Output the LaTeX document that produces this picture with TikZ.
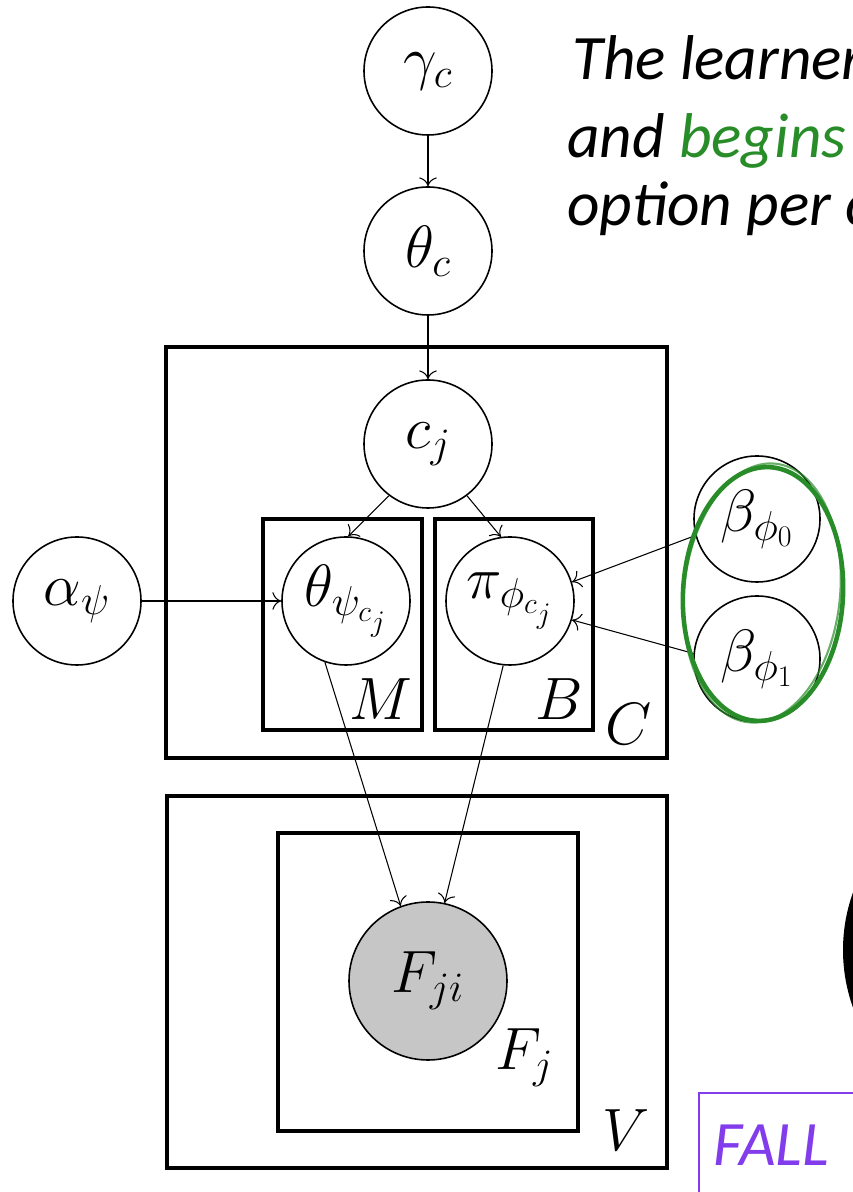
\RequirePackage{fix-cm}
\documentclass[tikz,border=0pt]{standalone}
\usepackage{fontspec}
\setmainfont{Carlito}
\usetikzlibrary{arrows.meta}
\definecolor{penGreen}{RGB}{40,140,40}
\definecolor{fallPurple}{RGB}{130,60,235}
\newcommand{\bigsize}{\fontsize{34}{40}\selectfont}
\newcommand{\slidesize}{\fontsize{36}{42}\selectfont}
\tikzset{
  var/.style={draw, circle, line width=0.9pt, minimum size=2.56cm, inner sep=0pt, font=\bigsize},
  obs/.style={var, fill=gray!45, minimum size=3.16cm},
  plate/.style={draw, line width=2pt},
  edge/.style={-{Computer Modern Rightarrow[length=5pt,width=10pt]}, line width=0.6pt},
  platelabel/.style={anchor=base east, font=\bigsize, inner sep=0pt},
  slidetext/.style={anchor=base west, font=\slidesize\itshape, inner sep=0pt},
}
\begin{document}
\begin{tikzpicture}
  \useasboundingbox (0,0) rectangle (17.06,23.84);
  \clip (0,0) rectangle (17.06,23.84);
  % plates
  \draw[plate] (3.32,16.90) rectangle (13.34,8.68);
  \draw[plate] (5.26,13.46) rectangle (8.44,9.24);
  \draw[plate] (8.70,13.46) rectangle (11.86,9.24);
  \draw[plate] (3.34,7.92) rectangle (13.34,0.48);
  \draw[plate] (5.56,7.18) rectangle (11.56,1.22);
  \node[platelabel] at (8.26,9.44) {$M$};
  \node[platelabel] at (11.66,9.44) {$B$};
  \node[platelabel] at (13.04,8.94) {$C$};
  \node[anchor=base west, font=\bigsize, inner sep=0pt] at (9.90,2.44) {$F_j$};
  \node[platelabel] at (13.00,0.84) {$V$};
  % variables
  \node[var] (gammac) at (8.56,22.42) {$\gamma_c$};
  \node[var] (thetac) at (8.56,18.82) {$\theta_c$};
  \node[var] (cj) at (8.56,14.96) {$c_j$};
  \node[var] (thetapsi) at (6.92,11.82) {$\theta_{\psi_{c_j}}$};
  \node[var] (piphi) at (10.20,11.82) {$\pi_{\phi_{c_j}}$};
  \node[var] (alphapsi) at (1.54,11.82) {$\alpha_\psi$};
  \node[var, minimum size=2.52cm] (betazero) at (15.14,13.46) {$\beta_{\phi_0}$};
  \node[var, minimum size=2.52cm] (betaone) at (15.14,10.66) {$\beta_{\phi_1}$};
  \node[obs] (fji) at (8.56,4.22) {$F_{ji}$};
  % edges
  \draw[edge] (gammac) -- (thetac);
  \draw[edge] (thetac) -- (cj);
  \draw[edge] (cj.233) -- (thetapsi.88);
  \draw[edge] (cj.307) -- (piphi.98);
  \draw[edge] (alphapsi) -- (thetapsi);
  \draw[edge] (betazero.195) -- (piphi.17);
  \draw[edge] (betaone.175) -- (piphi.343);
  \draw[edge] (thetapsi.251) -- (fji.110);
  \draw[edge] (piphi.264) -- (fji.78);
  % pen mark round the betas
  \draw[penGreen, line width=2.6pt, rotate around={-3:(15.26,11.96)}] (15.26,11.96) ellipse (1.60cm and 2.54cm);
  \draw[penGreen, line width=1.2pt, opacity=0.7, rotate around={-6:(15.24,11.98)}] (15.24,11.98) ellipse (1.56cm and 2.60cm);
  % slide text
  \node[slidetext] (lineone) at (11.44,22.24) {The learner};
  \node[slidetext] (linetwo) at (11.34,20.68) {and \textcolor{penGreen}{begins}};
  \node[slidetext] (linethree) at (11.34,19.32) {option per c};
  \draw[fallPurple, line width=1pt] (13.98,-1) -- (13.98,1.98) -- (18,1.98);
  \node[slidetext, text=fallPurple] (fall) at (14.26,0.54) {FALL};
  \fill[black] (20.26,4.84) circle (3.4cm);
\end{tikzpicture}
\end{document}
